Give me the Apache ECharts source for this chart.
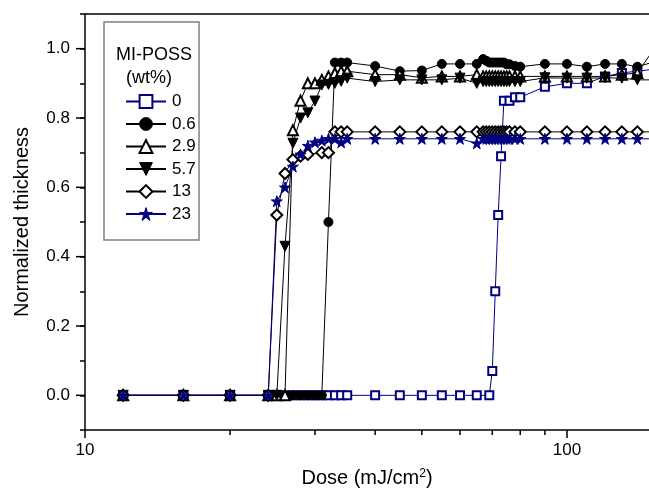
<!DOCTYPE html>
<html>
<head>
<meta charset="utf-8">
<script src="https://cdn.jsdelivr.net/npm/echarts@6/dist/echarts.min.js"></script>
<style>
html, body {margin: 0; padding: 0; background: #fff;}
#contain {width: 649px; height: 488px;}
</style>
</head>
<body>
<div id="contain"></div>
<script>
// doses for the 0 wt% sample
var doses0 = [12, 16, 20, 24, 25, 26, 27, 28, 29, 30, 31, 32, 33, 34, 35, 40, 45, 50, 55, 60, 65, 69,
    70, 71, 72, 73, 74, 76, 78, 80, 90, 100, 110, 120, 130, 140, 150];
var thick0 = [0, 0, 0, 0, 0, 0, 0, 0, 0, 0, 0, 0, 0, 0, 0, 0, 0, 0, 0, 0, 0, 0,
    0.07, 0.30, 0.52, 0.69, 0.85, 0.85, 0.86, 0.86, 0.89, 0.90, 0.90, 0.92, 0.93, 0.935, 0.94];

// doses shared by the other samples
var doses = [12, 16, 20, 24, 25, 26, 27, 28, 29, 30, 31, 32, 33, 34, 35, 40, 45, 50, 55, 60, 65,
    67, 68, 69, 70, 71, 72, 73, 74, 75, 76, 78, 80, 90, 100, 110, 120, 130, 140, 150];
var thick06 = [0, 0, 0, 0, 0, 0, 0, 0, 0, 0, 0, 0.50, 0.96, 0.96, 0.96, 0.95, 0.935, 0.937, 0.956, 0.956, 0.956,
    0.97, 0.965, 0.96, 0.96, 0.96, 0.96, 0.96, 0.96, 0.955, 0.955, 0.95, 0.948,
    0.956, 0.956, 0.948, 0.956, 0.956, 0.948, 0.96];
var thick29 = [0, 0, 0, 0, 0, 0, 0.765, 0.85, 0.90, 0.90, 0.91, 0.92, 0.93, 0.935, 0.935, 0.925, 0.925, 0.916, 0.92, 0.92, 0.925,
    0.92, 0.92, 0.92, 0.92, 0.92, 0.92, 0.92, 0.92, 0.92, 0.92, 0.92, 0.92,
    0.92, 0.92, 0.92, 0.92, 0.925, 0.93, 0.99];
var thick57 = [0, 0, 0, 0, 0, 0.43, 0.727, 0.80, 0.815, 0.849, 0.895, 0.897, 0.90, 0.906, 0.915, 0.905, 0.91, 0.91, 0.91, 0.915, 0.90,
    0.905, 0.905, 0.905, 0.905, 0.905, 0.905, 0.905, 0.905, 0.905, 0.905, 0.905, 0.905,
    0.916, 0.915, 0.915, 0.916, 0.915, 0.91, 0.91];
var thick13 = [0, 0, 0, 0, 0.52, 0.64, 0.68, 0.69, 0.695, null, 0.70, 0.70, 0.76, 0.76, 0.76, 0.76, 0.76, 0.76, 0.76, 0.76, 0.76,
    0.76, 0.76, 0.76, 0.76, 0.76, 0.76, 0.76, 0.76, 0.76, 0.76, 0.76, 0.76,
    0.76, 0.76, 0.76, 0.76, 0.76, 0.76, 0.76];
var thick23 = [0, 0, 0, 0, 0.56, 0.60, 0.66, 0.695, 0.72, 0.73, 0.735, 0.74, 0.74, 0.73, 0.74, 0.74, 0.74, 0.74, 0.74, 0.74, 0.727,
    0.74, 0.74, 0.74, 0.74, 0.74, 0.74, 0.74, 0.74, 0.74, 0.74, 0.74, 0.74,
    0.74, 0.74, 0.74, 0.74, 0.74, 0.74, 0.74];

var seriesNames = ['0', '0.6', '2.9', '5.7', '13', '23'];
var xMinorTicks = [20, 30, 40, 50, 60, 70, 80, 90];
var yMajorTicks = [0, 0.2, 0.4, 0.6, 0.8, 1.0];

var FONT = '"Liberation Sans", Arial, Helvetica, sans-serif';
var NAVY = '#000080';
var STAR = 'path://M50,2 L61.8,38.2 L99.9,38.2 L69,60.5 L80.9,96.8 L50,74.4 L19.1,96.8 L31,60.5 L0.1,38.2 L38.2,38.2 Z';
var TRI_DOWN = 'path://M0,0 L10,0 L5,9 Z';

function pairs(xs, ys) {
    var out = [];
    for (var i = 0; i < xs.length; i++) {
        if (ys[i] === null) continue;
        out.push([xs[i], ys[i]]);
    }
    return out;
}

function lineSeries(name, data, symbol, size, color) {
    return {
        name: name,
        type: 'line',
        data: data,
        symbol: symbol,
        symbolSize: size,
        connectNulls: true,
        lineStyle: {color: color, width: 1},
        itemStyle: {color: color, borderColor: color, borderWidth: 1},
        emphasis: {disabled: true}
    };
}

var myChart = echarts.init(document.getElementById('contain'));
var option = {
    animation: false,
    backgroundColor: '#fff',
    textStyle: {fontFamily: FONT},
    grid: {left: 85, right: 0, top: 14, bottom: 58, containLabel: false, outerBoundsMode: 'none'},
    legend: {
        orient: 'vertical',
        left: 120,
        top: 88,
        itemWidth: 40,
        itemHeight: 16,
        itemGap: 5.5,
        itemStyle: {borderWidth: 1},
        textStyle: {fontSize: 17, color: '#000', fontFamily: FONT, padding: [0, 0, 0, 1]},
        data: seriesNames
    },
    xAxis: [
        {
            type: 'log',
            logBase: 10,
            min: 10,
            max: 148,
            name: 'Dose (mJ/cm{sup|2})',
            nameLocation: 'middle',
            nameGap: 38,
            nameTextStyle: {
                fontSize: 20, color: '#000', fontFamily: FONT,
                rich: {sup: {fontSize: 12, verticalAlign: 'top', padding: [0, 0, 9, 0], fontFamily: FONT}}
            },
            axisLine: {show: true, onZero: false, lineStyle: {color: '#000', width: 1.5}},
            axisTick: {show: true, inside: false, length: 8, lineStyle: {color: '#000', width: 1.5}},
            axisLabel: {fontSize: 17, color: '#000', margin: 12, showMaxLabel: false, fontFamily: FONT},
            splitLine: {show: false}
        },
        {
            type: 'log',
            logBase: 10,
            min: 10,
            max: 148,
            position: 'top',
            axisLine: {show: true, onZero: false, lineStyle: {color: '#000', width: 1.5}},
            axisTick: {show: false},
            axisLabel: {show: false},
            splitLine: {show: false}
        }
    ],
    yAxis: {
        type: 'value',
        min: -0.1,
        max: 1.1,
        interval: 0.1,
        name: 'Normalized thickness',
        nameLocation: 'middle',
        nameGap: 53,
        nameTextStyle: {fontSize: 20, color: '#000', fontFamily: FONT},
        axisLine: {show: true, onZero: false, lineStyle: {color: '#000', width: 1.5}},
        axisTick: {show: true, inside: false, length: 5, lineStyle: {color: '#000', width: 1.5}},
        axisLabel: {
            fontSize: 17, color: '#000', margin: 15, fontFamily: FONT,
            formatter: function (v) {
                var r = Math.round(v * 10);
                return (r >= 0 && r <= 10 && r % 2 === 0) ? (r / 10).toFixed(1) : '';
            }
        },
        splitLine: {show: false}
    },
    series: [
        lineSeries('0', pairs(doses0, thick0), 'emptyRect', 8, NAVY),
        lineSeries('0.6', pairs(doses, thick06), 'circle', 9, '#000'),
        lineSeries('2.9', pairs(doses, thick29), 'emptyTriangle', 10, '#000'),
        lineSeries('5.7', pairs(doses, thick57), TRI_DOWN, 10, '#000'),
        lineSeries('13', pairs(doses, thick13), 'emptyDiamond', 11, '#000'),
        lineSeries('23', pairs(doses, thick23), STAR, 11, NAVY)
    ]
};
myChart.setOption(option, true);

// minor ticks, longer major ticks, legend frame and title
var gfx = [];
var yBottom = myChart.convertToPixel({yAxisIndex: 0}, -0.1);
var xLeft = myChart.convertToPixel({xAxisIndex: 0}, 10);
xMinorTicks.forEach(function (v) {
    var px = myChart.convertToPixel({xAxisIndex: 0}, v);
    gfx.push({type: 'line', shape: {x1: px, y1: yBottom, x2: px, y2: yBottom + 5},
        style: {stroke: '#000', lineWidth: 1.5}, silent: true});
});
yMajorTicks.forEach(function (v) {
    var py = myChart.convertToPixel({yAxisIndex: 0}, v);
    gfx.push({type: 'line', shape: {x1: xLeft - 9, y1: py, x2: xLeft, y2: py},
        style: {stroke: '#000', lineWidth: 1.5}, silent: true});
});
gfx.push({type: 'rect', shape: {x: 104, y: 22, width: 95, height: 218},
    style: {fill: 'none', stroke: '#808080', lineWidth: 1.5}, silent: true, z: 100});
gfx.push({type: 'text', x: 154, y: 55, style: {text: 'MI-POSS', font: '18px ' + FONT, fill: '#000',
    textAlign: 'center', textVerticalAlign: 'middle'}, silent: true, z: 100});
gfx.push({type: 'text', x: 149, y: 78, style: {text: '(wt%)', font: '18px ' + FONT, fill: '#000',
    textAlign: 'center', textVerticalAlign: 'middle'}, silent: true, z: 100});
myChart.setOption({graphic: gfx});
</script>
</body>
</html>
